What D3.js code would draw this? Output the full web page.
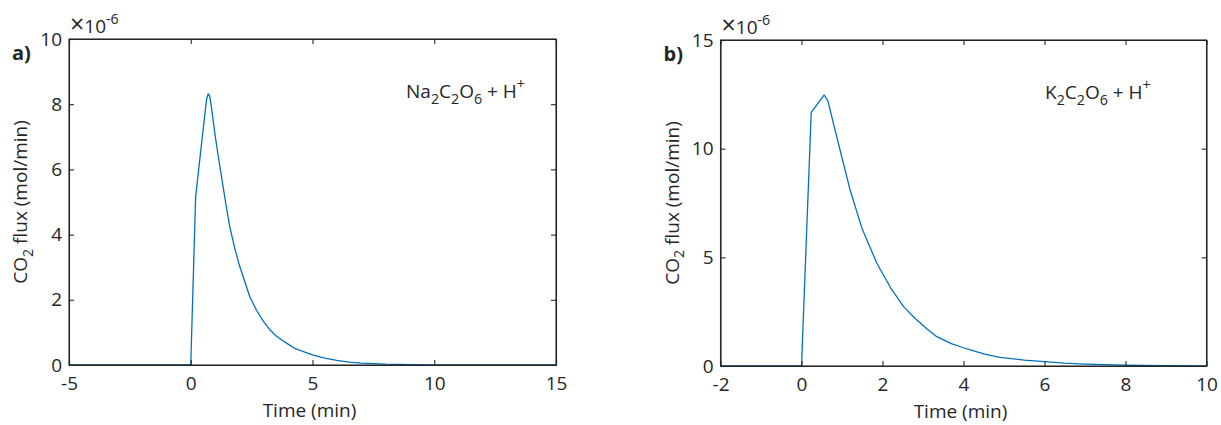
<!DOCTYPE html>
<html><head><meta charset="utf-8">
<script src="https://cdn.jsdelivr.net/npm/d3@7"></script>
<style>body{margin:0;background:#fff;} text{font-family:"Open Sans",sans-serif;fill:#262626;}</style>
</head><body><svg id="c" width="1221" height="425"></svg>
<script>
// Panel a data (time in min, flux in 1e-6 mol/min)
const timeA = [-5,0,0.2,0.4,0.55,0.65,0.72,0.78,0.85,0.92,1.0,1.12,1.3,1.45,1.6,1.8,2.0,2.2,2.42,2.7,3.0,3.25,3.5,3.75,4.0,4.3,4.6,5.0,5.5,6.0,6.5,7.0,8.0,9.0,10,11,12,15];
const fluxA = [0,0,5.15,6.5,7.5,8.15,8.32,8.25,7.9,7.5,7.05,6.45,5.6,4.9,4.25,3.6,3.05,2.6,2.1,1.68,1.32,1.08,0.9,0.76,0.64,0.5,0.42,0.31,0.21,0.14,0.09,0.06,0.025,0.01,0.004,0.002,0,0];
const xTicksA = [-5,0,5,10,15];
const yTicksA = [0,2,4,6,8,10];
// Panel b data
const timeB = [-2,0,0.24,0.56,0.65,0.91,1.2,1.5,1.86,2.2,2.52,2.8,3.1,3.34,3.7,4.0,4.17,4.5,4.9,5.5,6.0,6.5,7.0,7.5,8.0,9.0,10];
const fluxB = [0,0,11.67,12.47,12.21,10.25,8.1,6.3,4.73,3.6,2.73,2.2,1.7,1.35,1.03,0.84,0.74,0.56,0.4,0.27,0.2,0.13,0.09,0.06,0.035,0.012,0.005];
const xTicksB = [-2,0,2,4,6,8,10];
const yTicksB = [0,5,10,15];
const panelLabels = ["a)","b)"];
const xTitle = "Time (min)";

const svg = d3.select("#c");
const lineColor = "#0072BD";
const axisColor = "#262626";

function rich(textSel, parts, fs){
  let shift = 0;
  parts.forEach(p=>{
    let target = p.sub ? 0.3*fs : p.sup ? -0.45*fs : 0;
    const ts = textSel.append("tspan").text(p.t).attr("dy", target - shift);
    if(p.sub||p.sup) ts.attr("font-size", fs*0.75);
    if(p.big) ts.attr("font-size", p.big);
    shift = target;
  });
}

function panel(o){
  const x = d3.scaleLinear().domain(o.xd).range([o.left,o.right]);
  const y = d3.scaleLinear().domain(o.yd).range([o.bottom,o.top]);
  const g = svg.append("g");
  const fs = 19;
  const fmt = d => String(d);
  const line = d3.line().x((d,i)=>x(o.t[i])).y(d=>y(d));
  g.append("path").datum(o.v).attr("d",line).attr("fill","none")
   .attr("stroke",lineColor).attr("stroke-width",1.3).attr("stroke-linejoin","round");
  const tl = 5;
  const bx = g.append("g").attr("transform",`translate(0,${o.bottom})`)
    .call(d3.axisBottom(x).tickValues(o.xt).tickSizeInner(-tl).tickSizeOuter(0).tickPadding(12).tickFormat(fmt));
  const tx = g.append("g").attr("transform",`translate(0,${o.top})`)
    .call(d3.axisTop(x).tickValues(o.xt).tickSizeInner(-tl).tickSizeOuter(0).tickFormat(""));
  const ly = g.append("g").attr("transform",`translate(${o.left},0)`)
    .call(d3.axisLeft(y).tickValues(o.yt).tickSizeInner(-tl).tickSizeOuter(0).tickPadding(7).tickFormat(fmt));
  const ry = g.append("g").attr("transform",`translate(${o.right},0)`)
    .call(d3.axisRight(y).tickValues(o.yt).tickSizeInner(-tl).tickSizeOuter(0).tickFormat(""));
  [bx,tx,ly,ry].forEach(a=>{
    a.selectAll("path.domain").attr("stroke",axisColor).attr("stroke-width",1.1);
    a.selectAll(".tick line").attr("stroke",axisColor).attr("stroke-width",1.1);
    a.selectAll(".tick text").attr("font-size",fs).attr("fill",axisColor).style("font-family",'"Open Sans",sans-serif');
  });
  g.append("rect").attr("x",o.left).attr("y",o.top).attr("width",o.right-o.left).attr("height",o.bottom-o.top)
   .attr("fill","none").attr("stroke",axisColor).attr("stroke-width",1.1);
  const ex = g.append("text").attr("x",o.left+1).attr("y",o.top-6).attr("font-size",fs);
  rich(ex,[{t:"\u00D7",big:25},{t:"10"},{t:"-6",sup:true}],fs);
  g.append("text").attr("x",(o.left+o.right)/2 - 3).attr("y",o.bottom+52).attr("text-anchor","middle")
   .attr("font-size",fs).text(xTitle);
  const yt = g.append("text").attr("transform",`translate(${o.left-42},${(o.top+o.bottom)/2}) rotate(-90)`)
   .attr("text-anchor","middle").attr("font-size",fs);
  rich(yt,[{t:"CO"},{t:"2",sub:true},{t:" flux (mol/min)"}],fs);
  g.append("text").attr("x",o.left-57).attr("y",o.top+21).attr("font-size",20).attr("font-weight","bold").text(o.label);
  const an = g.append("text").attr("x",o.annX).attr("y",o.top+59).attr("font-size",fs);
  rich(an,o.ann,fs);
}

panel({t:timeA,v:fluxA,xd:[-5,15],yd:[0,10],xt:xTicksA,yt:yTicksA,left:69,right:556,top:39,bottom:365,label:panelLabels[0],annX:406,
  ann:[{t:"Na"},{t:"2",sub:true},{t:"C"},{t:"2",sub:true},{t:"O"},{t:"6",sub:true},{t:" + H"},{t:"+",sup:true}]});
panel({t:timeB,v:fluxB,xd:[-2,10],yd:[0,15],xt:xTicksB,yt:yTicksB,left:720.5,right:1206.5,top:40,bottom:366,label:panelLabels[1],annX:1045,
  ann:[{t:"K"},{t:"2",sub:true},{t:"C"},{t:"2",sub:true},{t:"O"},{t:"6",sub:true},{t:" + H"},{t:"+",sup:true}]});
</script></body></html>
